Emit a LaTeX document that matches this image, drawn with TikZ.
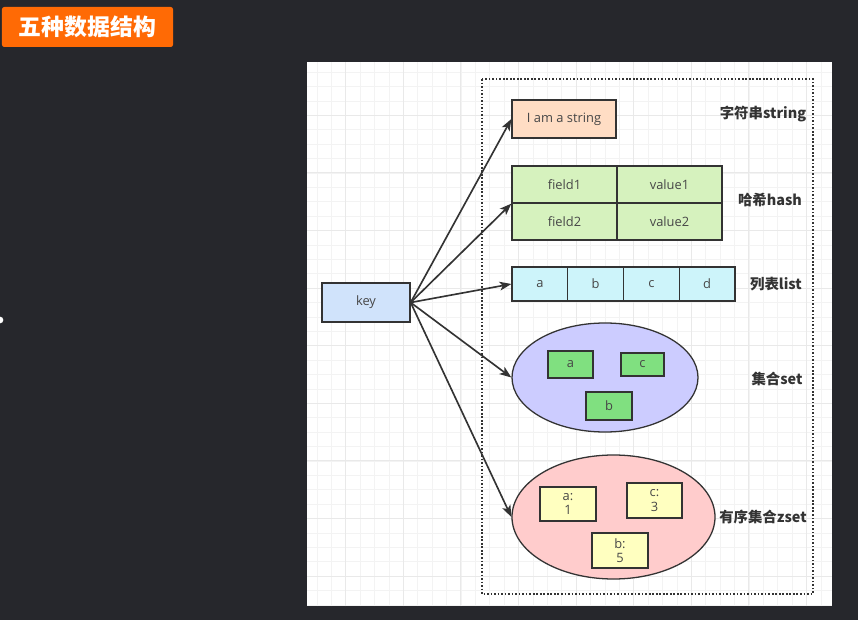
\documentclass[tikz,border=0pt]{standalone}
\usepackage{fontspec}
\setmainfont{Open Sans}
\newfontfamily\cjk{Noto Sans CJK SC}
\usetikzlibrary{shapes.geometric,arrows.meta}
\definecolor{bgdark}{HTML}{26272C}
\definecolor{tagorange}{HTML}{FF6A05}
\definecolor{gridminor}{HTML}{F3F3F3}
\definecolor{gridmajor}{HTML}{E9E9E9}
\definecolor{boxline}{HTML}{333333}
\definecolor{boxtext}{HTML}{474747}
\definecolor{labeltext}{HTML}{333333}
\definecolor{keyblue}{HTML}{D0E3FB}
\definecolor{strpeach}{HTML}{FFDDC4}
\definecolor{hashgreen}{HTML}{D6F2BE}
\definecolor{listcyan}{HTML}{CDF4FA}
\definecolor{setblue}{HTML}{CCCCFF}
\definecolor{setgreen}{HTML}{80E080}
\definecolor{zsetpink}{HTML}{FFCCCC}
\definecolor{zsetyellow}{HTML}{FFFFC0}
\begin{document}
\begin{tikzpicture}[x=0.03cm, y=-0.03cm, >={Stealth[length=10pt,width=7.5pt,inset=2.5pt]},
    box/.style={draw=boxline, line width=1.1pt, inner sep=0pt, text=boxtext,
      font=\fontsize{11}{12.5}\selectfont, align=center},
    blob/.style={ellipse, draw=boxline, line width=1.1pt, inner sep=0pt},
    typename/.style={font=\cjk\bfseries\fontsize{12.3}{14}\selectfont, text=labeltext},
    link/.style={->, line width=1.4pt, draw=boxline}]
    \useasboundingbox (0,0) rectangle (858,620);
    % screen and canvas
    \fill[bgdark] (0,0) rectangle (858,620);
    \begin{scope}
      \clip (0,0) rectangle (858,620);
      \fill[white] (0,320) circle (0.1cm);
    \end{scope}
    \node (title) [fill=tagorange, rounded corners=2pt, minimum width=5.13cm, minimum height=1.2cm,
      text=white, font=\cjk\bfseries\fontsize{19.5}{22}\selectfont] at (87.5,27) {五种数据结构};
    \fill[white] (307,62) rectangle (832,606);
    \draw[gridminor, step=0.432cm, line width=0.5pt] (307,62) grid (832,606);
    \draw[gridmajor, step=1.728cm, line width=0.6pt] (307,62) grid (832,606);
    \draw[boxline, line width=1.4pt, dash pattern=on 1.4pt off 1.6pt] (482,79) rectangle (813,594);
    % key
    \node (key) [box, fill=keyblue, minimum width=2.64cm, minimum height=1.17cm] at (366,302.5) {key};
    % string
    \node (str) [box, fill=strpeach, minimum width=3.12cm, minimum height=1.14cm] at (564,119) {I am a string};
    \node (lstr) [typename] at (763,114) {字符串string};
    % hash
    \node (field1) [box, fill=hashgreen, minimum width=3.15cm, minimum height=1.11cm] at (564.5,184.5) {field1};
    \node (value1) [box, fill=hashgreen, minimum width=3.15cm, minimum height=1.11cm] at (669.5,184.5) {value1};
    \node (field2) [box, fill=hashgreen, minimum width=3.15cm, minimum height=1.11cm] at (564.5,221.5) {field2};
    \node (value2) [box, fill=hashgreen, minimum width=3.15cm, minimum height=1.11cm] at (669.5,221.5) {value2};
    \node (lhash) [typename] at (770,200) {哈希hash};
    % list
    \node (la) [box, fill=listcyan, minimum width=1.6725cm, minimum height=1.02cm] at (539.9,284) {a};
    \node (lb) [box, fill=listcyan, minimum width=1.6725cm, minimum height=1.02cm] at (595.6,284) {b};
    \node (lc) [box, fill=listcyan, minimum width=1.6725cm, minimum height=1.02cm] at (651.4,284) {c};
    \node (ld) [box, fill=listcyan, minimum width=1.6725cm, minimum height=1.02cm] at (707.1,284) {d};
    \node (llist) [typename] at (776,284) {列表list};
    % set
    \node (set) [blob, fill=setblue, minimum width=5.58cm, minimum height=3.27cm] at (605,377.5) {};
    \node (sa) [box, fill=setgreen, minimum width=1.35cm, minimum height=0.81cm] at (570.5,364.5) {a};
    \node (sc) [box, fill=setgreen, minimum width=1.29cm, minimum height=0.69cm] at (642.5,364.5) {c};
    \node (sb) [box, fill=setgreen, minimum width=1.38cm, minimum height=0.84cm] at (609,406) {b};
    \node (lset) [typename] at (777,379) {集合set};
    % zset
    \node (zset) [blob, fill=zsetpink, minimum width=6.09cm, minimum height=3.72cm] at (613.5,517) {};
    \node (za) [box, fill=zsetyellow, minimum width=1.68cm, minimum height=1.02cm] at (568,504) {a:\\1};
    \node (zc) [box, fill=zsetyellow, minimum width=1.65cm, minimum height=1.05cm] at (654.5,500.5) {c:\\3};
    \node (zb) [box, fill=zsetyellow, minimum width=1.68cm, minimum height=1.05cm] at (620,550.5) {b:\\5};
    \node (lzset) [typename] at (763,517) {有序集合zset};
    % arrows
    \draw[link] (key.east) -- (str.west);
    \draw[link] (key.east) -- (field1.south west);
    \draw[link] (key.east) -- (la.west);
    \draw[link] (key.east) -- (set.west);
    \draw[link] (key.east) -- (zset.west);
\end{tikzpicture}
\end{document}
